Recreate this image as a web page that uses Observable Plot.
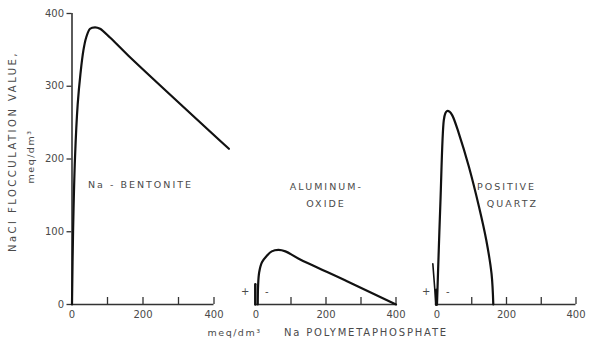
<!DOCTYPE html>
<html>
<head>
<meta charset="utf-8">
<script src="https://cdn.jsdelivr.net/npm/d3@7"></script>
<script src="https://cdn.jsdelivr.net/npm/@observablehq/plot@0.6"></script>
<style>
  html, body { margin: 0; padding: 0; background: #fff; }
  #chart { position: relative; width: 589px; height: 343px; background: #fff; }
  #chart svg { position: absolute; left: 0; top: 0; }
</style>
</head>
<body>
<div id="chart"></div>
<script>
// Tick values
const yTicks = [0, 100, 200, 300, 400];
const xTickMarks = [100, 200, 300, 400];
const xTickLabels = [0, 200, 400];

// Na-bentonite
const bentX = [0, 3, 8.5, 16, 24, 32, 40, 51, 65, 79, 107, 159, 442];
const bentY = [0, 100, 202, 275, 318, 349, 367, 379, 381, 379, 367, 342, 214];

// Aluminum oxide
const aluX = [5, 6, 9, 17, 31, 45, 64, 84, 122, 260, 400];
const aluY = [0, 26, 44, 58, 67, 73, 75, 73, 63, 32, 0];
const aluSpikeX = [-2, -2];
const aluSpikeY = [0, 28];

// Positive quartz
const qzX = [0, 5, 10, 19.5, 24, 29, 36, 44, 63, 92, 121, 142, 157, 162];
const qzY = [0, 74, 143, 253, 263, 266, 265, 260, 235, 189, 134, 88, 42, 0];
const qzSpikeX = [-12, -3];
const qzSpikeY = [56, 0];
const qzStubX = [-2, -2];
const qzStubY = [0, 20];

// Texts
const yTitle = "NaCl FLOCCULATION VALUE,";
const yUnit = "meq/dm³";
const xUnit = "meq/dm³";
const xTitle = "Na POLYMETAPHOSPHATE";
const bentLabel = "Na - BENTONITE";
const aluLabel = ["ALUMINUM-", "OXIDE"];
const qzLabel = ["POSITIVE", "QUARTZ"];

const pts = (xs, ys) => xs.map((x, i) => ({x, y: ys[i]}));

const W = 589, H = 343, MT = 13, MB = 39;
const ink = "#111";
const axisInk = "#333";
const textInk = "#4a4a4a";
const style = {fontFamily: "DejaVu Sans", fontSize: "10px", color: textInk, background: "transparent", overflow: "visible"};

function base(ml, mr, marks) {
  return Plot.plot({
    width: W, height: H,
    marginTop: MT, marginBottom: MB, marginLeft: ml, marginRight: mr,
    x: {domain: [0, 400], axis: null},
    y: {domain: [0, 400], axis: null},
    style,
    marks: [
      Plot.ruleY([0], {stroke: axisInk, strokeWidth: 1.6}),
      Plot.axisX({ticks: xTickMarks, tickSize: -7, tickFormat: () => "", label: null, stroke: axisInk, strokeWidth: 1.3}),
      Plot.axisX({ticks: xTickLabels, tickSize: 0, tickPadding: 6, label: null, fill: textInk, fontSize: 10}),
      ...marks
    ]
  });
}

const plusMinus = () => [
  Plot.text(["+"], {x: -31, y: 17, fill: textInk, fontSize: 10}),
  Plot.text(["-"], {x: 31, y: 17, fill: textInk, fontSize: 10})
];

const p1 = base(71.5, W - 213.5, [
  Plot.ruleX([0], {stroke: axisInk, strokeWidth: 1.6}),
  Plot.axisY({ticks: yTicks, tickSize: 5, tickPadding: 3, label: null, stroke: axisInk, strokeWidth: 1.3, fill: textInk, fontSize: 10}),
  Plot.line(pts(bentX, bentY), {x: "x", y: "y", curve: "catmull-rom", stroke: ink, strokeWidth: 2.2}),
  Plot.text([bentLabel], {x: 193, y: 164, fill: textInk, fontSize: 9.5}),
  Plot.text([yTitle], {frameAnchor: "left", textAnchor: "middle", dx: -58.8, dy: -7.5, rotate: -90, fill: textInk, fontSize: 10}),
  Plot.text([yUnit], {frameAnchor: "left", textAnchor: "middle", dx: -41.5, dy: -2.5, rotate: -90, fill: textInk, fontSize: 9.5})
]);

const p2 = base(255.5, W - 395.5, [
  Plot.line(pts(aluSpikeX, aluSpikeY), {x: "x", y: "y", stroke: ink, strokeWidth: 2.5}),
  Plot.line(pts(aluX, aluY), {x: "x", y: "y", curve: "catmull-rom", stroke: ink, strokeWidth: 2.2}),
  ...plusMinus(),
  Plot.text([aluLabel[0]], {x: 201, y: 161, fill: textInk, fontSize: 9.5}),
  Plot.text([aluLabel[1]], {x: 200, y: 138.4, fill: textInk, fontSize: 9.5}),
  Plot.text([xUnit], {frameAnchor: "bottom-left", textAnchor: "middle", dx: -21.5, dy: 31, fill: textInk, fontSize: 9.5}),
  Plot.text([xTitle], {frameAnchor: "bottom-left", textAnchor: "middle", dx: 110, dy: 31, fill: textInk, fontSize: 10})
]);

const p3 = base(436.5, W - 575.5, [
  Plot.line(pts(qzSpikeX, qzSpikeY), {x: "x", y: "y", stroke: ink, strokeWidth: 1.6}),
  Plot.line(pts(qzStubX, qzStubY), {x: "x", y: "y", stroke: ink, strokeWidth: 3}),
  Plot.line(pts(qzX, qzY), {x: "x", y: "y", curve: "catmull-rom", stroke: ink, strokeWidth: 2.2}),
  ...plusMinus(),
  Plot.text([qzLabel[0]], {x: 200, y: 161, fill: textInk, fontSize: 9.5}),
  Plot.text([qzLabel[1]], {x: 217, y: 138.4, fill: textInk, fontSize: 9.5})
]);

const chart = document.getElementById("chart");
chart.append(p1, p2, p3);

// letter spacing of the hand-lettered labels (matched by their content)
const spacing = new Map([
  [yTitle, "2.5px"], [xTitle, "1.8px"], [yUnit, "1.5px"],
  [bentLabel, "2px"], [aluLabel[0], "2px"], [aluLabel[1], "2px"],
  [qzLabel[0], "2px"], [qzLabel[1], "2px"]
]);
chart.querySelectorAll("text").forEach(t => {
  const ls = spacing.get(t.textContent);
  if (ls) t.style.letterSpacing = ls;
});
</script>
</body>
</html>
